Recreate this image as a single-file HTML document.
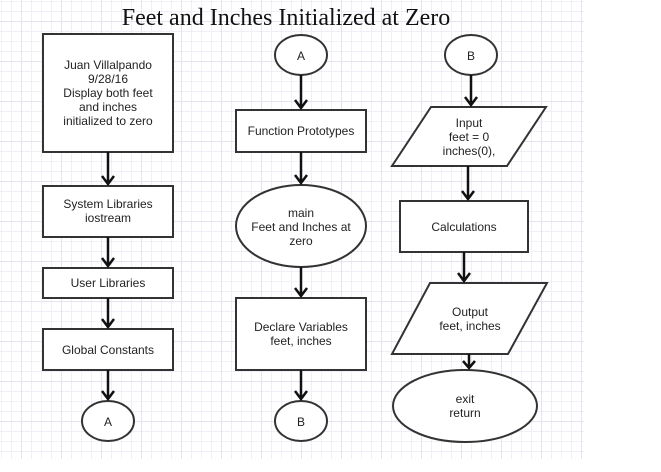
<!DOCTYPE html>
<html><head><meta charset="utf-8"><style>
html,body{margin:0;padding:0;background:#fff;width:661px;height:472px;overflow:hidden}
svg{display:block}
text{font-family:"Liberation Sans",Arial,sans-serif;font-size:12px;fill:#222;text-anchor:middle}
</style></head><body>
<svg width="661" height="472" viewBox="0 0 661 472" xmlns="http://www.w3.org/2000/svg">
<defs>
<pattern id="g" x="1.5" y="1.5" width="40" height="40" patternUnits="userSpaceOnUse">
<path d="M0 0V40M10 0V40M20 0V40M30 0V40M0 0H40M0 10H40M0 20H40M0 30H40" stroke="#efeff7" stroke-width="1" fill="none"/>
<path d="M0 0V40M20 0V40M0 0H40M0 20H40" stroke="#e4e4f0" stroke-width="1" fill="none"/>
</pattern>
</defs>
<rect x="0" y="0" width="584" height="459" fill="url(#g)"/>
<text x="286" y="25" style="font-family:'Liberation Serif',serif;font-size:24px;fill:#111">Feet and Inches Initialized at Zero</text>
<g fill="#fff" stroke="#333" stroke-width="2">
<rect x="43" y="34" width="130" height="118"/>
<rect x="43" y="186" width="130" height="51"/>
<rect x="43" y="268" width="130" height="30"/>
<rect x="43" y="329" width="130" height="41"/>
<ellipse cx="108" cy="421" rx="26" ry="20"/>
<ellipse cx="301" cy="55" rx="26" ry="20"/>
<rect x="236" y="110" width="130" height="42"/>
<ellipse cx="301" cy="226" rx="65" ry="41"/>
<rect x="236" y="298" width="130" height="72"/>
<ellipse cx="301" cy="421" rx="26" ry="20"/>
<ellipse cx="471" cy="55" rx="26" ry="20"/>
<polygon points="431,107 546,107 507,166 392,166"/>
<rect x="400" y="201" width="128" height="51"/>
<polygon points="430,283 547,283 508,354 392,354"/>
<ellipse cx="465" cy="406" rx="72" ry="36"/>
</g>
<g stroke="#111" stroke-width="2.5" fill="none">
<path d="M108 152V184M102 176L108 184L114 176"/>
<path d="M108 237V266M102 258L108 266L114 258"/>
<path d="M108 298V327M102 319L108 327L114 319"/>
<path d="M108 370V399M102 391L108 399L114 391"/>
<path d="M301 75V108M295 100L301 108L307 100"/>
<path d="M301 152V183M295 175L301 183L307 175"/>
<path d="M301 267V296M295 288L301 296L307 288"/>
<path d="M301 370V399M295 391L301 399L307 391"/>
<path d="M471 75V105M465 97L471 105L477 97"/>
<path d="M468 166V199M462 191L468 199L474 191"/>
<path d="M464 252V281M458 273L464 281L470 273"/>
<path d="M469 354V368M463 361L469 368L475 361"/>
</g>
<text x="108" y="69">Juan Villalpando</text>
<text x="108" y="83">9/28/16</text>
<text x="108" y="97">Display both feet</text>
<text x="108" y="111">and inches</text>
<text x="108" y="125">initialized to zero</text>
<text x="108" y="208">System Libraries</text>
<text x="108" y="222">iostream</text>
<text x="108" y="287">User Libraries</text>
<text x="108" y="354">Global Constants</text>
<text x="108" y="426">A</text>
<text x="301" y="60">A</text>
<text x="301" y="135">Function Prototypes</text>
<text x="301" y="217">main</text>
<text x="301" y="231">Feet and Inches at</text>
<text x="301" y="245">zero</text>
<text x="301" y="331">Declare Variables</text>
<text x="301" y="345">feet, inches</text>
<text x="301" y="426">B</text>
<text x="471" y="60">B</text>
<text x="469" y="127">Input</text>
<text x="469" y="141">feet = 0</text>
<text x="469" y="155">inches(0),</text>
<text x="464" y="231">Calculations</text>
<text x="470" y="316">Output</text>
<text x="470" y="330">feet, inches</text>
<text x="465" y="403">exit</text>
<text x="465" y="417">return</text>
</svg>
</body></html>
